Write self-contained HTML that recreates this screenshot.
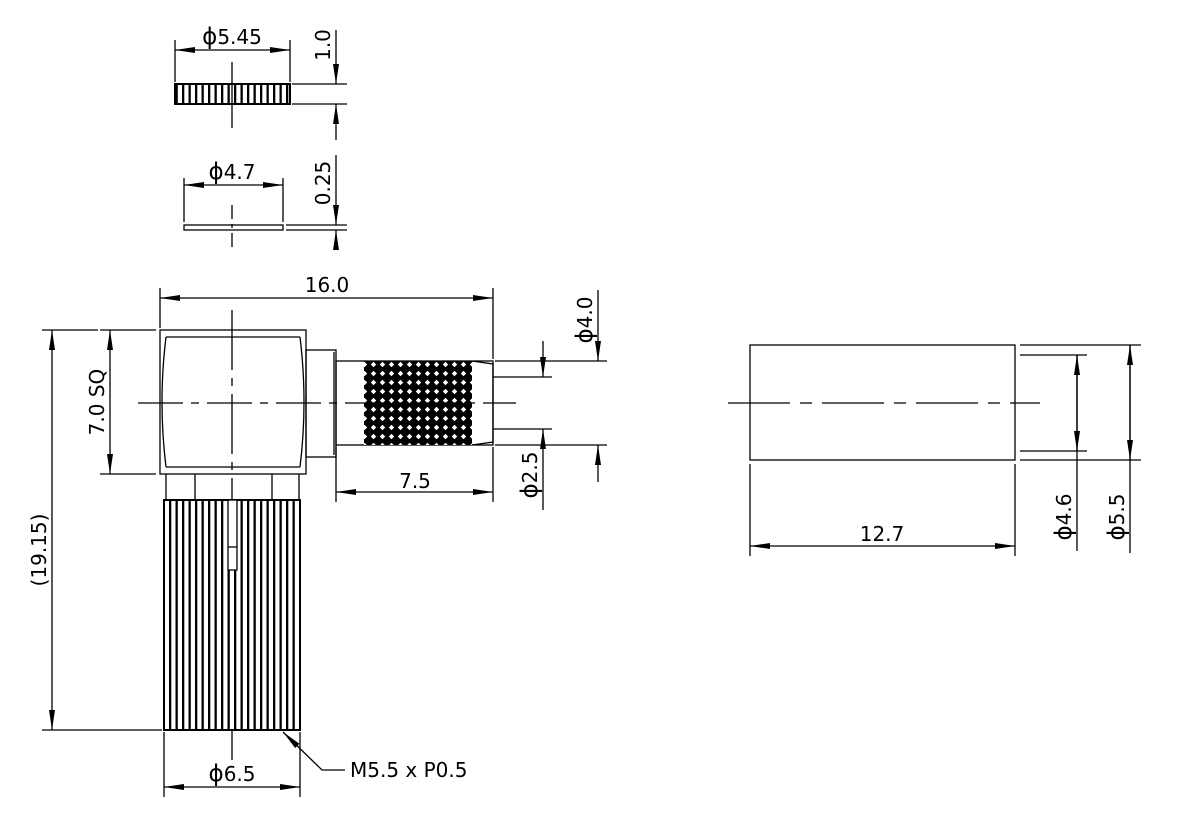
<!DOCTYPE html>
<html><head><style>html,body{margin:0;padding:0;background:#fff}svg{display:block}text{font-family:"DejaVu Sans","Liberation Sans",sans-serif;fill:#000}.p{font-size:23px}</style></head>
<body>
<svg width="1189" height="825" viewBox="0 0 1189 825" xmlns="http://www.w3.org/2000/svg">
<defs>
<marker id="a" viewBox="0 0 20 6" refX="20" refY="3" markerWidth="20" markerHeight="6" markerUnits="userSpaceOnUse" orient="auto-start-reverse"><path d="M0,0 L20,3 L0,6z" fill="#000"/></marker>
<pattern id="kn" width="9" height="9" patternUnits="userSpaceOnUse"><rect width="9" height="9" fill="#000"/><path d="M4.5,1.8 L7.2,4.5 L4.5,7.2 L1.8,4.5z" fill="#fff"/></pattern>
<pattern id="vl" width="6.5" height="10" patternUnits="userSpaceOnUse"><rect width="6.5" height="10" fill="#fff"/><rect x="0" width="2.3" height="10" fill="#000"/></pattern>
</defs>
<g stroke="#000" stroke-width="1.3" fill="none">
<rect x="175" y="84" width="115" height="20" fill="url(#vl)" stroke-width="2"/>
<line x1="232" y1="62" x2="232" y2="128"/>
<line x1="175" y1="40" x2="175" y2="82"/><line x1="290" y1="40" x2="290" y2="82"/>
<line x1="175" y1="50" x2="290" y2="50" marker-start="url(#a)" marker-end="url(#a)"/>
<line x1="292" y1="84" x2="347" y2="84"/><line x1="292" y1="104" x2="347" y2="104"/>
<line x1="336" y1="30" x2="336" y2="84" marker-end="url(#a)"/><line x1="336" y1="140" x2="336" y2="104" marker-end="url(#a)"/>
<rect x="184" y="225" width="99" height="5"/>
<line x1="232" y1="205" x2="232" y2="250" stroke-dasharray="14,5,4,5"/>
<line x1="184" y1="178" x2="184" y2="222"/><line x1="283" y1="178" x2="283" y2="222"/>
<line x1="184" y1="185" x2="283" y2="185" marker-start="url(#a)" marker-end="url(#a)"/>
<line x1="286" y1="225" x2="347" y2="225"/><line x1="286" y1="230" x2="347" y2="230"/>
<line x1="336" y1="155" x2="336" y2="225" marker-end="url(#a)"/><line x1="336" y1="250" x2="336" y2="230" marker-end="url(#a)"/>
<rect x="160" y="330" width="146" height="144"/>
<line x1="166" y1="337" x2="300" y2="337"/><line x1="166" y1="467" x2="300" y2="467"/>
<path d="M166,337 Q158,402 166,467 M300,337 Q308,402 300,467"/>
<rect x="306" y="350" width="30" height="107"/>
<line x1="334" y1="352" x2="334" y2="455"/>
<rect x="336" y="361" width="157" height="84"/>
<rect x="364" y="361" width="108" height="84" fill="url(#kn)" stroke="none"/>
<path d="M472,361 L493,364 L493,442 L472,445"/>
<line x1="493" y1="377" x2="552" y2="377"/><line x1="493" y1="429" x2="552" y2="429"/>
<line x1="138" y1="403" x2="516" y2="403" stroke-dasharray="45,8,8,8"/>
<line x1="232" y1="310" x2="232" y2="760" stroke-dasharray="60,8,8,8"/>
<line x1="166" y1="474" x2="166" y2="500"/><line x1="195" y1="474" x2="195" y2="500"/><line x1="272" y1="474" x2="272" y2="500"/><line x1="299" y1="474" x2="299" y2="500"/>
<rect x="164" y="500" width="136" height="230" fill="url(#vl)" stroke-width="2"/>
<rect x="228" y="500" width="9" height="70" fill="#fff"/>
<line x1="228" y1="547" x2="237" y2="547"/>
<line x1="160" y1="288" x2="160" y2="328"/><line x1="493" y1="288" x2="493" y2="359"/>
<line x1="160" y1="298" x2="493" y2="298" marker-start="url(#a)" marker-end="url(#a)"/>
<line x1="495" y1="361" x2="607" y2="361"/><line x1="495" y1="445" x2="607" y2="445"/>
<line x1="598" y1="290" x2="598" y2="361" marker-end="url(#a)"/><line x1="598" y1="482" x2="598" y2="445" marker-end="url(#a)"/>
<line x1="543" y1="341" x2="543" y2="377" marker-end="url(#a)"/><line x1="543" y1="510" x2="543" y2="429" marker-end="url(#a)"/>
<line x1="336" y1="447" x2="336" y2="502"/><line x1="493" y1="447" x2="493" y2="502"/>
<line x1="336" y1="492" x2="493" y2="492" marker-start="url(#a)" marker-end="url(#a)"/>
<line x1="100" y1="330" x2="156" y2="330"/><line x1="100" y1="474" x2="156" y2="474"/>
<line x1="110" y1="330" x2="110" y2="474" marker-start="url(#a)" marker-end="url(#a)"/>
<line x1="42" y1="330" x2="98" y2="330"/><line x1="42" y1="730" x2="162" y2="730"/>
<line x1="52" y1="330" x2="52" y2="730" marker-start="url(#a)" marker-end="url(#a)"/>
<line x1="164" y1="732" x2="164" y2="797"/><line x1="300" y1="732" x2="300" y2="797"/>
<line x1="164" y1="787" x2="300" y2="787" marker-start="url(#a)" marker-end="url(#a)"/>
<polyline points="345,770 322,770 283,732" marker-end="url(#a)"/>
<rect x="750" y="345" width="265" height="115"/>
<line x1="728" y1="403" x2="1040" y2="403" stroke-dasharray="62,10,12,10"/>
<line x1="1020" y1="345" x2="1141" y2="345"/><line x1="1020" y1="460" x2="1141" y2="460"/>
<line x1="1020" y1="355" x2="1087" y2="355"/><line x1="1020" y1="451" x2="1087" y2="451"/>
<line x1="1077" y1="355" x2="1077" y2="551" marker-start="url(#a)"/><line x1="1077" y1="355" x2="1077" y2="451" marker-end="url(#a)"/>
<line x1="1130" y1="345" x2="1130" y2="553" marker-start="url(#a)"/><line x1="1130" y1="345" x2="1130" y2="460" marker-end="url(#a)"/>
<line x1="750" y1="464" x2="750" y2="556"/><line x1="1015" y1="464" x2="1015" y2="556"/>
<line x1="750" y1="546" x2="1015" y2="546" marker-start="url(#a)" marker-end="url(#a)"/>
</g>
<g font-size="20">
<text x="232" y="44" text-anchor="middle"><tspan class="p">ϕ</tspan>5.45</text>
<text x="232" y="179" text-anchor="middle"><tspan class="p">ϕ</tspan>4.7</text>
<text x="330" y="45" transform="rotate(-90 330 45)" text-anchor="middle">1.0</text>
<text x="330" y="183" transform="rotate(-90 330 183)" text-anchor="middle">0.25</text>
<text x="327" y="292" text-anchor="middle">16.0</text>
<text x="592" y="320" transform="rotate(-90 592 320)" text-anchor="middle"><tspan class="p">ϕ</tspan>4.0</text>
<text x="537" y="475" transform="rotate(-90 537 475)" text-anchor="middle"><tspan class="p">ϕ</tspan>2.5</text>
<text x="415" y="488" text-anchor="middle">7.5</text>
<text x="104" y="402" transform="rotate(-90 104 402)" text-anchor="middle">7.0 SQ</text>
<text x="46" y="550" transform="rotate(-90 46 550)" text-anchor="middle">(19.15)</text>
<text x="232" y="781" text-anchor="middle"><tspan class="p">ϕ</tspan>6.5</text>
<text x="350" y="777">M5.5 x P0.5</text>
<text x="882" y="541" text-anchor="middle">12.7</text>
<text x="1071" y="517" transform="rotate(-90 1071 517)" text-anchor="middle"><tspan class="p">ϕ</tspan>4.6</text>
<text x="1124" y="517" transform="rotate(-90 1124 517)" text-anchor="middle"><tspan class="p">ϕ</tspan>5.5</text>
</g>
</svg>
</body></html>
